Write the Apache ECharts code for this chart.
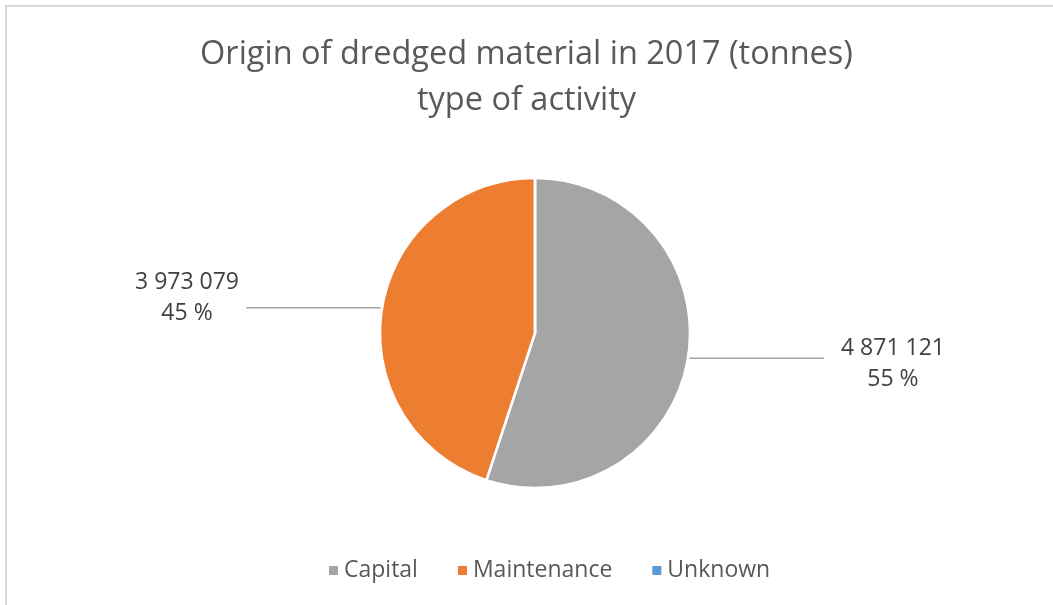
<!DOCTYPE html>
<html>
<head>
<meta charset="utf-8">
<style>
    html, body { margin: 0; padding: 0; background: #fff; }
    #frame { position: absolute; left: 5px; top: 5px; width: 1048px; height: 600px;
        border-left: 2px solid #d9d9d9; border-top: 2px solid #d9d9d9; box-sizing: border-box; }
    #main { position: absolute; left: 0; top: 0; width: 1053px; height: 605px; }
</style>
<script src="https://cdn.jsdelivr.net/npm/echarts@6/dist/echarts.min.js"></script>
</head>
<body>
<div id="frame"></div>
<div id="main"></div>
<script>
// data
var categories = ['Capital', 'Maintenance', 'Unknown'];
var tonnes = [4871121, 3973079, 0];
var colors = ['#a5a5a5', '#ed7d31', '#5b9bd5'];

// 数字用空格分千位
function fmt(n) {
    return String(n).replace(/\B(?=(\d{3})+(?!\d))/g, ' ');
}

var chart = echarts.init(document.getElementById('main'));

var pieData = [];
for (var i = 0; i < categories.length; i++) {
    var item = {
        name: categories[i],
        value: tonnes[i],
        itemStyle: { color: colors[i] }
    };
    if (tonnes[i] == 0) {
        item.label = { show: false };
        item.labelLine = { show: false };
    }
    pieData.push(item);
}
// 左边标签在线端上方一点
pieData[1].label = { padding: [0, 0, 20, 0] };
pieData[0].label = { padding: [12, 0, 0, 10] };

var option = {
    backgroundColor: 'transparent',
    animation: false,
    title: {
        text: 'Origin of dredged material in 2017 (tonnes)\ntype of activity',
        left: 'center',
        top: 27,
        textStyle: {
            fontFamily: 'Open Sans',
            fontSize: 32.5,
            fontWeight: 'normal',
            color: '#595959',
            lineHeight: 46
        }
    },
    legend: {
        bottom: 18,
        left: 322,
        icon: 'rect',
        itemWidth: 11,
        itemHeight: 11,
        itemGap: 38,
        data: categories,
        textStyle: { fontFamily: 'Open Sans', fontSize: 23, color: '#595959' }
    },
    series: [{
        type: 'pie',
        center: [535, 333],
        radius: 155,
        startAngle: 90,
        clockwise: true,
        avoidLabelOverlap: false,
        data: pieData,
        itemStyle: { borderColor: '#fff', borderWidth: 2.5 },
        label: {
            show: true,
            fontFamily: 'Open Sans',
            formatter: function(p) {
                return '{a|' + fmt(p.value) + '}\n{a|' + Math.round(p.percent) + ' %}';
            },
            rich: {
                a: { width: 108, align: 'center', fontFamily: 'Open Sans', fontSize: 23, color: '#404040', lineHeight: 31 }
            }
        },
        labelLine: {
            show: true,
            length: 4,
            length2: 132,
            smooth: false,
            lineStyle: { color: '#a6a6a6', width: 1.5 }
        }
    }]
};

chart.setOption(option);
</script>
</body>
</html>
